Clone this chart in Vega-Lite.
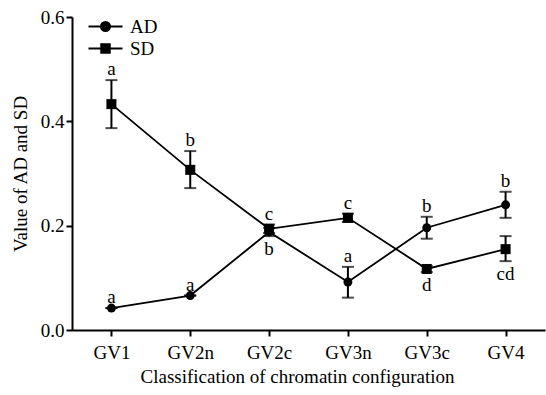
{
  "$schema": "https://vega.github.io/schema/vega-lite/v6.json",
  "width": 473,
  "height": 313,
  "autosize": {"type": "none"},
  "padding": {"left": 72, "top": 17, "right": 1, "bottom": 65},
  "config": {
    "view": {"stroke": null},
    "font": "Liberation Serif",
    "axis": {
      "labelFont": "Liberation Serif",
      "titleFont": "Liberation Serif",
      "labelFontSize": 19,
      "titleFontSize": 19,
      "titleFontWeight": "normal",
      "labelColor": "black",
      "titleColor": "black",
      "domainColor": "black",
      "tickColor": "black",
      "domainWidth": 2,
      "tickWidth": 2,
      "tickSize": 6,
      "grid": false
    }
  },
  "data": {
    "values": [
      {"stage": "GV1", "series": "AD", "mean": 0.042, "lo": 0.042, "hi": 0.042, "label": "a", "pos": "above"},
      {"stage": "GV2n", "series": "AD", "mean": 0.066, "lo": 0.066, "hi": 0.066, "label": "a", "pos": "above"},
      {"stage": "GV2c", "series": "AD", "mean": 0.188, "lo": 0.18, "hi": 0.196, "label": "b", "pos": "below"},
      {"stage": "GV3n", "series": "AD", "mean": 0.092, "lo": 0.062, "hi": 0.121, "label": "a", "pos": "above"},
      {"stage": "GV3c", "series": "AD", "mean": 0.196, "lo": 0.175, "hi": 0.217, "label": "b", "pos": "above"},
      {"stage": "GV4", "series": "AD", "mean": 0.24, "lo": 0.215, "hi": 0.265, "label": "b", "pos": "above"},
      {"stage": "GV1", "series": "SD", "mean": 0.433, "lo": 0.387, "hi": 0.479, "label": "a", "pos": "above"},
      {"stage": "GV2n", "series": "SD", "mean": 0.307, "lo": 0.272, "hi": 0.343, "label": "b", "pos": "above"},
      {"stage": "GV2c", "series": "SD", "mean": 0.194, "lo": 0.186, "hi": 0.202, "label": "c", "pos": "above"},
      {"stage": "GV3n", "series": "SD", "mean": 0.215, "lo": 0.207, "hi": 0.223, "label": "c", "pos": "above"},
      {"stage": "GV3c", "series": "SD", "mean": 0.117, "lo": 0.111, "hi": 0.123, "label": "d", "pos": "below"},
      {"stage": "GV4", "series": "SD", "mean": 0.155, "lo": 0.132, "hi": 0.18, "label": "cd", "pos": "below"}
    ]
  },
  "encoding": {
    "x": {
      "field": "stage",
      "type": "ordinal",
      "sort": ["GV1", "GV2n", "GV2c", "GV3n", "GV3c", "GV4"],
      "scale": {"type": "point", "padding": 0.5},
      "axis": {
        "title": "Classification of chromatin configuration",
        "labelAngle": 0,
        "labelPadding": 7,
        "titlePadding": 5,
        "titleX": 225
      }
    }
  },
  "layer": [
    {
      "mark": {"type": "line", "color": "black", "strokeWidth": 1.8},
      "encoding": {
        "y": {
          "field": "mean",
          "type": "quantitative",
          "scale": {"domain": [0, 0.6], "nice": false},
          "axis": {
            "title": "Value of AD and SD",
            "values": [0, 0.2, 0.4, 0.6],
            "format": ".1f",
            "labelPadding": 2,
            "titlePadding": 10
          }
        },
        "detail": {"field": "series", "type": "nominal"}
      }
    },
    {
      "mark": {"type": "rule", "color": "black", "strokeWidth": 2},
      "encoding": {
        "y": {"field": "lo", "type": "quantitative"},
        "y2": {"field": "hi"}
      }
    },
    {
      "mark": {"type": "tick", "orient": "horizontal", "size": 12, "thickness": 2, "color": "black"},
      "encoding": {"y": {"field": "lo", "type": "quantitative"}}
    },
    {
      "mark": {"type": "tick", "orient": "horizontal", "size": 12, "thickness": 2, "color": "black"},
      "encoding": {"y": {"field": "hi", "type": "quantitative"}}
    },
    {
      "transform": [{"filter": "datum.series == 'AD'"}],
      "mark": {"type": "point", "shape": "circle", "size": 80, "filled": true, "color": "black", "opacity": 1},
      "encoding": {"y": {"field": "mean", "type": "quantitative"}}
    },
    {
      "transform": [{"filter": "datum.series == 'SD'"}],
      "mark": {"type": "point", "shape": "square", "size": 100, "filled": true, "color": "black", "opacity": 1},
      "encoding": {"y": {"field": "mean", "type": "quantitative"}}
    },
    {
      "transform": [{"filter": "datum.pos == 'above'"}],
      "mark": {"type": "text", "font": "Liberation Serif", "fontSize": 19, "baseline": "alphabetic", "dy": -5, "color": "black"},
      "encoding": {
        "y": {"field": "hi", "type": "quantitative"},
        "text": {"field": "label", "type": "nominal"}
      }
    },
    {
      "transform": [{"filter": "datum.pos == 'below'"}],
      "mark": {"type": "text", "font": "Liberation Serif", "fontSize": 19, "baseline": "top", "dy": 4, "color": "black"},
      "encoding": {
        "y": {"field": "lo", "type": "quantitative"},
        "text": {"field": "label", "type": "nominal"}
      }
    },
    {
      "transform": [{"filter": "false"}],
      "mark": {"type": "point", "filled": false, "color": "black", "strokeWidth": 2, "opacity": 1},
      "encoding": {
        "y": {"field": "mean", "type": "quantitative"},
        "shape": {
          "field": "series",
          "type": "nominal",
          "scale": {
            "domain": ["AD", "SD"],
            "range": [
              "M-3.4,0H-0.9M0.9,0H3.4M-0.9,0A0.9,0.9,0,1,1,0.9,0A0.9,0.9,0,1,1,-0.9,0ZM-0.5,0A0.5,0.5,0,1,1,0.5,0A0.5,0.5,0,1,1,-0.5,0ZM-0.15,0A0.15,0.15,0,1,1,0.15,0A0.15,0.15,0,1,1,-0.15,0Z",
              "M-3.4,0H-0.85M0.85,0H3.4M-0.85,-0.85H0.85V0.85H-0.85ZM-0.5,-0.5H0.5V0.5H-0.5ZM-0.15,-0.15H0.15V0.15H-0.15Z"
            ]
          },
          "legend": {
            "title": null,
            "orient": "none",
            "legendX": 24,
            "legendY": 0,
            "labelFont": "Liberation Serif",
            "labelFontSize": 19,
            "labelColor": "black",
            "symbolSize": 100,
            "symbolFillColor": "black",
            "symbolStrokeColor": "black",
            "symbolStrokeWidth": 2,
            "labelOffset": 15,
            "rowPadding": 2
          }
        }
      }
    }
  ]
}
